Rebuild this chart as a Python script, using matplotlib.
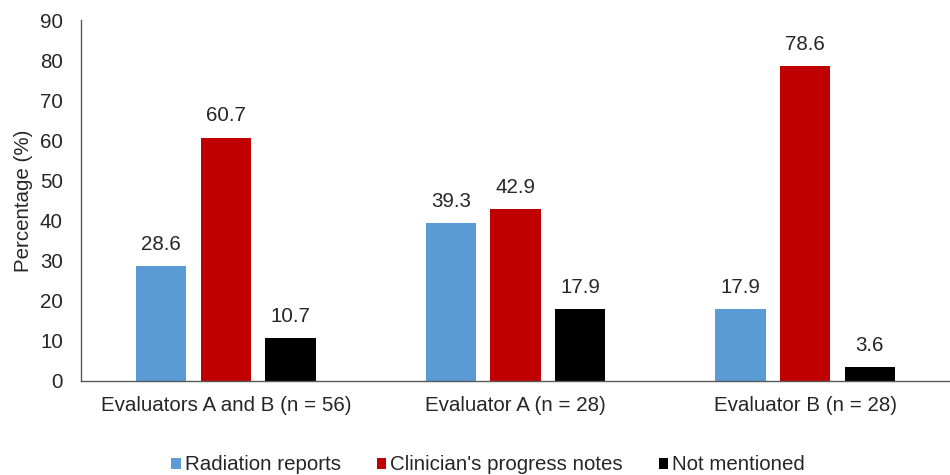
import matplotlib
matplotlib.use("Agg")
import matplotlib.pyplot as plt
import numpy as np

plt.rcParams['font.family'] = ['Liberation Sans', 'DejaVu Sans']

categories = ["Evaluators A and B (n = 56)", "Evaluator A (n = 28)", "Evaluator B (n = 28)"]
series_names = ["Radiation reports", "Clinician's progress notes", "Not mentioned"]
radiation = [28.6, 39.3, 17.9]
progress_notes = [60.7, 42.9, 78.6]
not_mentioned = [10.7, 17.9, 3.6]
colors = ["#5B9BD5", "#C00000", "#000000"]

fig = plt.figure(figsize=(9.5, 4.75), dpi=100)
ax = fig.add_axes([81 / 950, 1 - 381 / 475, 869 / 950, 361 / 475])

fs = 14.8
x = np.arange(len(categories))
width = 0.174
step = 0.223
text_color = "#262626"
for i, (vals, name, c) in enumerate(zip([radiation, progress_notes, not_mentioned], series_names, colors)):
    pos = x + (i - 1) * step
    ax.bar(pos, vals, width, color=c, label=name)
    for p, v in zip(pos, vals):
        ax.text(p, v + 3.0, f"{v:.1f}", ha="center", va="bottom", fontsize=fs, color=text_color)

ax.set_xlim(-0.5, 2.5)
ax.set_ylim(0, 90)
ax.set_yticks(range(0, 91, 10))
ax.set_xticks(x)
ax.set_xticklabels(categories)
ax.tick_params(axis="both", length=0, labelsize=fs, colors=text_color)
ax.tick_params(axis="x", pad=11)
ax.tick_params(axis="y", pad=13)
ax.set_ylabel("Percentage (%)", fontsize=fs, color=text_color, labelpad=5)
for s in ["top", "right"]:
    ax.spines[s].set_visible(False)
for s in ["left", "bottom"]:
    ax.spines[s].set_color("#595959")
    ax.spines[s].set_linewidth(1.0)

fig.legend(loc="center", bbox_to_anchor=(488 / 950, 1 - 465 / 475), ncol=3, frameon=False,
           fontsize=fs, handlelength=0.45, handleheight=0.45, handletextpad=0.2,
           columnspacing=1.75, labelcolor=text_color)

fig.savefig("out.png", dpi=100)
